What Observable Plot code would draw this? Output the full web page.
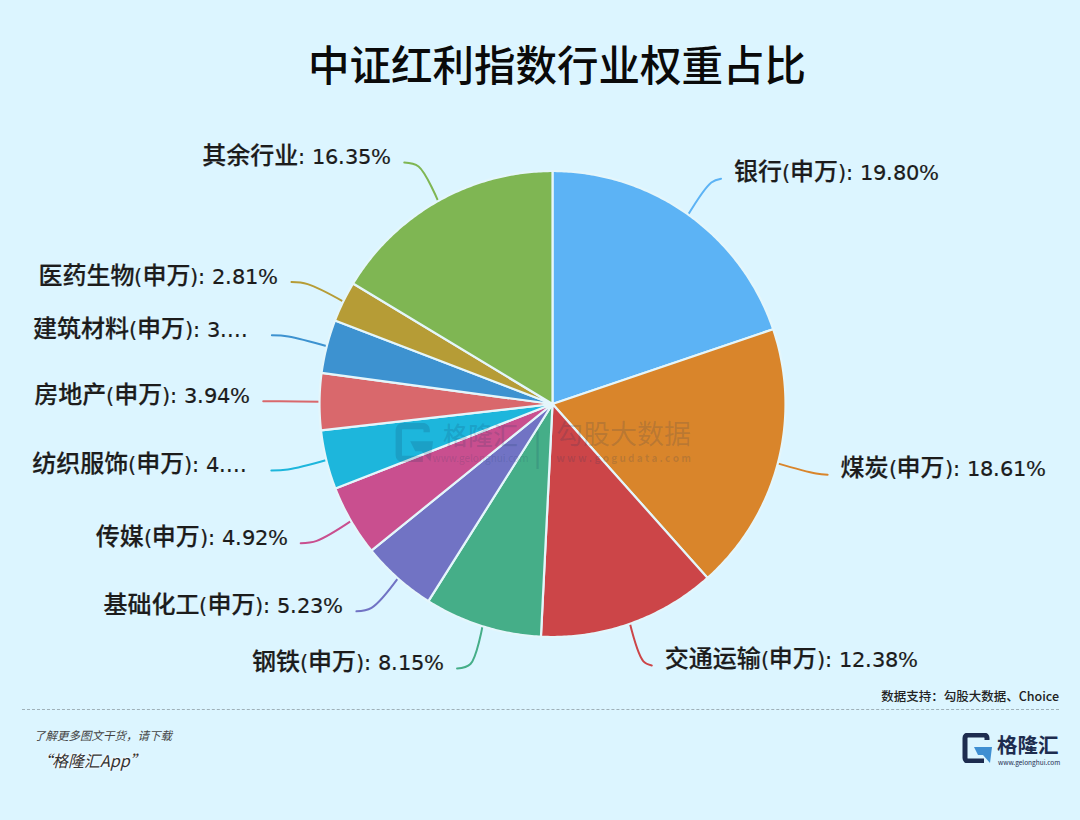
<!DOCTYPE html>
<html><head><meta charset="utf-8">
<script src="https://cdn.jsdelivr.net/npm/d3@7"></script>
<script src="https://cdn.jsdelivr.net/npm/@observablehq/plot@0.6"></script>
<style>
@font-face{font-family:"LatinLabel";src:local("DejaVu Sans");size-adjust:87%;}
html,body{margin:0;padding:0;background:#dcf5ff;}
body{width:1080px;height:820px;position:relative;overflow:hidden;font-family:"Noto Sans CJK SC",sans-serif;}
#title{height:110px;box-sizing:border-box;padding:33px 0 0 34px;text-align:center;font-size:41.5px;line-height:60px;font-weight:500;color:#0a0a0a;}
#chart svg{display:block;background:transparent;}
#foot{position:absolute;left:0;top:690px;width:1080px;height:130px;}
#foot div,#foot span{position:absolute;white-space:nowrap;}
.logo{position:absolute;}
</style></head><body>
<div id="title">中证红利指数行业权重占比</div>
<div id="chart"></div>
<svg class="logo" style="left:395px;top:423px;opacity:.17" width="38" height="39" viewBox="0 0 30 30">
  <path d="M25 7V5a3 3 0 0 0-3-3H6a3 3 0 0 0-3 3v20a3 3 0 0 0 3 3h16" fill="none" stroke="#16365c" stroke-width="5"/>
  <path d="M12 14h18l-2 16-7-8h-5z" fill="#16365c"/>
</svg>
<div id="foot">
  <div style="right:21px;top:-3px;font-size:12.5px;font-weight:500;color:#222;line-height:18px;">数据支持：勾股大数据、Choice</div>
  <div style="left:22px;top:19px;width:1037px;border-top:1px dashed #9fb0b8;"></div>
  <div style="left:34px;top:37px;font-size:11.5px;font-style:italic;color:#444;line-height:16px;">了解更多图文干货，请下载</div>
  <div style="left:36px;top:59px;font-size:16px;font-style:italic;color:#333;line-height:22px;text-shadow:0 0 3px #fff,0 0 3px #fff;">“格隆汇App”</div>
  <svg style="position:absolute;left:962px;top:43px" width="30" height="30" viewBox="0 0 30 30">
    <path d="M25 7V5a3 3 0 0 0-3-3H6a3 3 0 0 0-3 3v20a3 3 0 0 0 3 3h16" fill="none" stroke="#1d2c4f" stroke-width="5"/>
    <path d="M12 14h18l-2 16-7-8h-5z" fill="#3f8fd2"/>
  </svg>
  <div style="left:997px;top:43px;font-size:20.5px;font-weight:700;color:#1d2c4f;line-height:22px;">格隆汇</div>
  <div style="left:998px;top:68px;font-size:6.5px;color:#1d2c4f;line-height:8px;">www.gelonghui.com</div>
</div>
<script>
const names = ["银行(申万)","煤炭(申万)","交通运输(申万)","钢铁(申万)","基础化工(申万)","传媒(申万)","纺织服饰(申万)","房地产(申万)","建筑材料(申万)","医药生物(申万)","其余行业"];
const shares = [19.80,18.61,12.38,8.15,5.23,4.92,4.10,3.94,3.71,2.81,16.35];
const valueLabels = ["19.80%","18.61%","12.38%","8.15%","5.23%","4.92%","4....","3.94%","3....","2.81%","16.35%"];
const colors = ["#5cb3f5","#d9852b","#cc4548","#45ae88","#7173c4","#c94f8f","#1db6dc","#d9686c","#3d92d0","#b69c36","#7fb653"];

const total = d3.sum(shares);
let cum = 0;
const slices = names.map((name,i)=>{const a0=cum/total*2*Math.PI; cum+=shares[i]; return {name,a0,a1:cum/total*2*Math.PI,label:`${name}: ${valueLabels[i]}`,cut:valueLabels[i].endsWith("....")};});
const polar = (a,r)=>({x:r*Math.sin(a),y:r*Math.cos(a)});

const pie = slices.flatMap(s=>{
  const n=Math.max(2,Math.ceil((s.a1-s.a0)/0.01));
  return [{name:s.name,x:0,y:0},...d3.range(n+1).map(k=>({name:s.name,...polar(s.a0+(s.a1-s.a0)*k/n,1)}))];
});
const R=233, elbow=1.19, runRight=7/R, runLeft=12/R;
const sideOf=m=>Math.sin(m)>=0?1:-1;
const endOf=m=>{const p=polar(m,elbow),s=sideOf(m);return {x:p.x+(s>0?runRight:-runLeft),y:p.y,side:s};};
const leaders=slices.flatMap(s=>{
  const m=(s.a0+s.a1)/2;
  return [{name:s.name,...polar(m,0.995)},{name:s.name,...polar(m,elbow-0.02)},{name:s.name,...endOf(m)}];
});
const labels=slices.map(s=>({...endOf((s.a0+s.a1)/2),label:s.label,cut:s.cut}));

const font={fontFamily:'"LatinLabel","Noto Sans CJK SC",sans-serif',fontWeight:500,fontSize:24,fill:"#1c1c1c",stroke:"#1c1c1c",strokeWidth:0.2,dy:-6};
const mark={fontFamily:'"Noto Sans CJK SC",sans-serif',fill:"#16365c",fillOpacity:0.17};
const origin=[{x:0,y:0}];
const svg=Plot.plot({
  width:1080,height:580,margin:0,
  x:{domain:[-552/R,528/R],range:[0,1080],axis:null},
  y:{domain:[-286.5/R,293.5/R],range:[580,0],axis:null},
  color:{domain:names,range:colors},
  style:{background:"transparent"},
  marks:[
    Plot.line(leaders,{x:"x",y:"y",z:"name",stroke:"name",strokeWidth:2,curve:"catmull-rom"}),
    Plot.line(pie,{x:"x",y:"y",z:"name",fill:"name",stroke:"#e4f6fb",strokeWidth:2.2,curve:"linear-closed",strokeLinejoin:"round"}),
    Plot.text(labels.filter(d=>d.side>0),{x:"x",y:"y",text:"label",textAnchor:"start",dx:13,...font}),
    Plot.text(labels.filter(d=>d.side<0&&!d.cut),{x:"x",y:"y",text:"label",textAnchor:"end",dx:-13,...font}),
    Plot.text(labels.filter(d=>d.side<0&&d.cut),{x:"x",y:"y",text:"label",textAnchor:"end",dx:-24,...font}),
    Plot.text(origin,{x:"x",y:"y",text:()=>"格隆汇",dx:-72,dy:33,fontSize:25,fontWeight:500,...mark}),
    Plot.text(origin,{x:"x",y:"y",text:()=>"www.gelonghui.com",dx:-72,dy:55,fontSize:10,...mark}),
    Plot.text(origin,{x:"x",y:"y",text:()=>"|",dx:-15,dy:45,fontSize:34,...mark}),
    Plot.text(origin,{x:"x",y:"y",text:()=>"勾股大数据",dx:71,dy:31,fontSize:27,...mark}),
    Plot.text(origin,{x:"x",y:"y",text:()=>"w w w . g o g u d a t a . c o m",dx:71,dy:55,fontSize:10,fontWeight:700,...mark})
  ]
});
document.getElementById("chart").appendChild(svg);
</script>
</body></html>
